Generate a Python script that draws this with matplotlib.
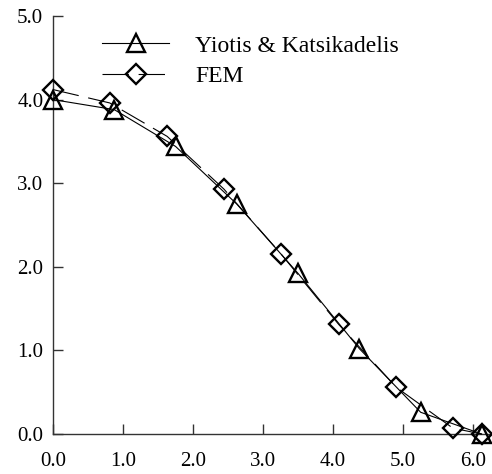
import matplotlib
matplotlib.use("Agg")
import matplotlib.pyplot as plt

plt.rcParams['font.family'] = ['Liberation Serif', 'DejaVu Serif']
plt.rcParams['lines.scale_dashes'] = False

# Yiotis & Katsikadelis (triangles)
yk_x = [0.0, 0.875, 1.75, 2.625, 3.5, 4.375, 5.25, 6.12]
yk_y = [4.0, 3.88, 3.44, 2.75, 1.92, 1.02, 0.26, 0.0]

# FEM (diamonds)
fem_x = [0.0, 0.81, 1.63, 2.44, 3.26, 4.08, 4.9, 5.71, 6.12]
fem_y = [4.12, 3.96, 3.56, 2.93, 2.15, 1.31, 0.56, 0.07, 0.0]

xticks = [0, 1, 2, 3, 4, 5, 6]
yticks = [0, 1, 2, 3, 4, 5]

fig = plt.figure(figsize=(4.92, 4.74), dpi=100)
ax = fig.add_axes([53 / 492, 40 / 474, 437 / 492, 418 / 474])

ax.plot(yk_x, yk_y, color='black', linewidth=0.8, marker='^', markersize=13,
        markerfacecolor='none', markeredgecolor='black', markeredgewidth=1.7,
        clip_on=False, label='Yiotis & Katsikadelis', zorder=3)
ax.plot(fem_x, fem_y, color='black', linewidth=0.8, dashes=(19, 7), marker='D',
        markersize=10, markerfacecolor='none', markeredgecolor='black',
        markeredgewidth=1.7, clip_on=False, label='FEM', zorder=3)

ax.set_xlim(0, 6.24)
ax.set_ylim(0, 5)
ax.set_xticks(xticks)
ax.set_yticks(yticks)
ax.set_xticklabels([f"{v:.1f}" for v in xticks])
ax.set_yticklabels([f"{v:.1f}" for v in yticks])

ax.spines['top'].set_visible(False)
ax.spines['right'].set_visible(False)
for s in ['left', 'bottom']:
    ax.spines[s].set_color('#333333')
    ax.spines[s].set_linewidth(1.0)
ax.tick_params(direction='in', length=7, width=1, color='#333333', labelsize=15)
ax.tick_params(axis='x', pad=13)
ax.tick_params(axis='y', pad=7)

ax.legend(loc='upper left', bbox_to_anchor=(102 / 492, 1 - 35 / 474),
          bbox_transform=fig.transFigure, frameon=False, fontsize=17,
          handlelength=2.85, handletextpad=1.1, labelspacing=0.4,
          borderpad=0, borderaxespad=0, numpoints=1)

fig.savefig("out.png", dpi=100)
